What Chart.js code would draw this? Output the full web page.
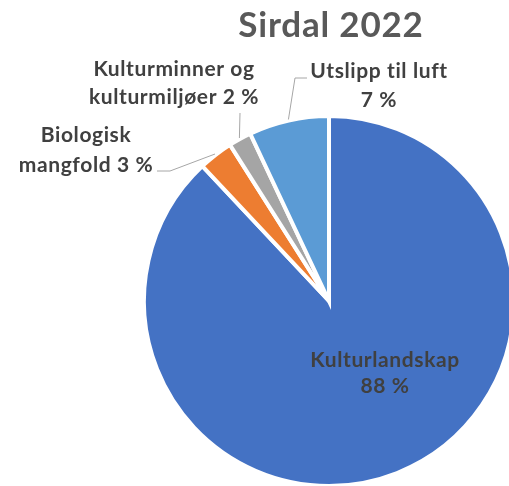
<!DOCTYPE html>
<html>
<head>
<meta charset="utf-8">
<script src="https://cdn.jsdelivr.net/npm/chart.js@4/dist/chart.umd.min.js"></script>
<style>
  html, body { margin: 0; padding: 0; overflow: hidden; background: #fff; }
  #wrap { position: relative; width: 520px; height: 490px; }
</style>
</head>
<body>
<div id="wrap"><canvas id="pie"></canvas></div>
<script>
// chart data
const chartTitle = 'Sirdal 2022';
const categories = ['Kulturlandskap', 'Biologisk mangfold', 'Kulturminner og kulturmiljøer', 'Utslipp til luft'];
const shares = [88, 3, 2, 7];
const sliceColors = ['#4472C4', '#ED7D31', '#A5A5A5', '#5B9BD5'];

// label text, split the way the original breaks the lines
const labelLines = [
    ['Kulturlandskap', shares[0] + ' %'],
    ['Biologisk', 'mangfold ' + shares[1] + ' %'],
    ['Kulturminner og', 'kulturmiljøer ' + shares[2] + ' %'],
    ['Utslipp til luft', shares[3] + ' %']
];

// where each label sits (text centre x, baselines) and the leader line bends
const labelLayout = [
    { x: 385, y: [367, 393] },
    { x: 86, y: [142, 172], elbow: [[170, 171], [157, 171]] },
    { x: 174, y: [76, 104], elbow: [[240, 113]] },
    { x: 379, y: [78, 107], elbow: [[295, 78], [307, 78]] }
];

const labelPlugin = {
    id: 'sliceLabels',
    afterDraw(chart) {
        const ctx = chart.ctx;
        const arcs = chart.getDatasetMeta(0).data;
        ctx.save();

        ctx.font = 'bold 35px Lato';
        ctx.letterSpacing = '0.8px';
        ctx.fillStyle = '#595959';
        ctx.textAlign = 'center';
        ctx.textBaseline = 'alphabetic';
        ctx.fillText(chartTitle, 331, 37);

        ctx.strokeStyle = '#A6A6A6';
        ctx.lineWidth = 1;
        labelLayout.forEach((lay, i) => {
            if (lay.elbow) {
                const a = arcs[i];
                const mid = (a.startAngle + a.endAngle) / 2;
                const r = a.outerRadius + 1;
                ctx.beginPath();
                ctx.moveTo(a.x + Math.cos(mid) * r, a.y + Math.sin(mid) * r);
                lay.elbow.forEach(p => ctx.lineTo(p[0], p[1]));
                ctx.stroke();
            }
            ctx.font = 'bold 21px Lato';
            ctx.letterSpacing = '0.6px';
            ctx.fillStyle = '#404040';
            labelLines[i].forEach((line, k) => {
                ctx.fillText(line, lay.x, lay.y[k]);
            });
        });
        ctx.restore();
    }
};

new Chart(document.getElementById('pie'), {
    type: 'pie',
    data: {
        labels: categories,
        datasets: [{
            data: shares,
            backgroundColor: sliceColors,
            borderColor: '#ffffff',
            borderWidth: 4,
            borderJoinStyle: 'miter'
        }]
    },
    options: {
        responsive: true,
        maintainAspectRatio: false,
        animation: false,
        layout: { padding: { left: 142, right: 4, top: 114, bottom: 2 } },
        plugins: {
            legend: { display: false },
            tooltip: { enabled: false }
        }
    },
    plugins: [labelPlugin]
});
</script>
</body>
</html>
